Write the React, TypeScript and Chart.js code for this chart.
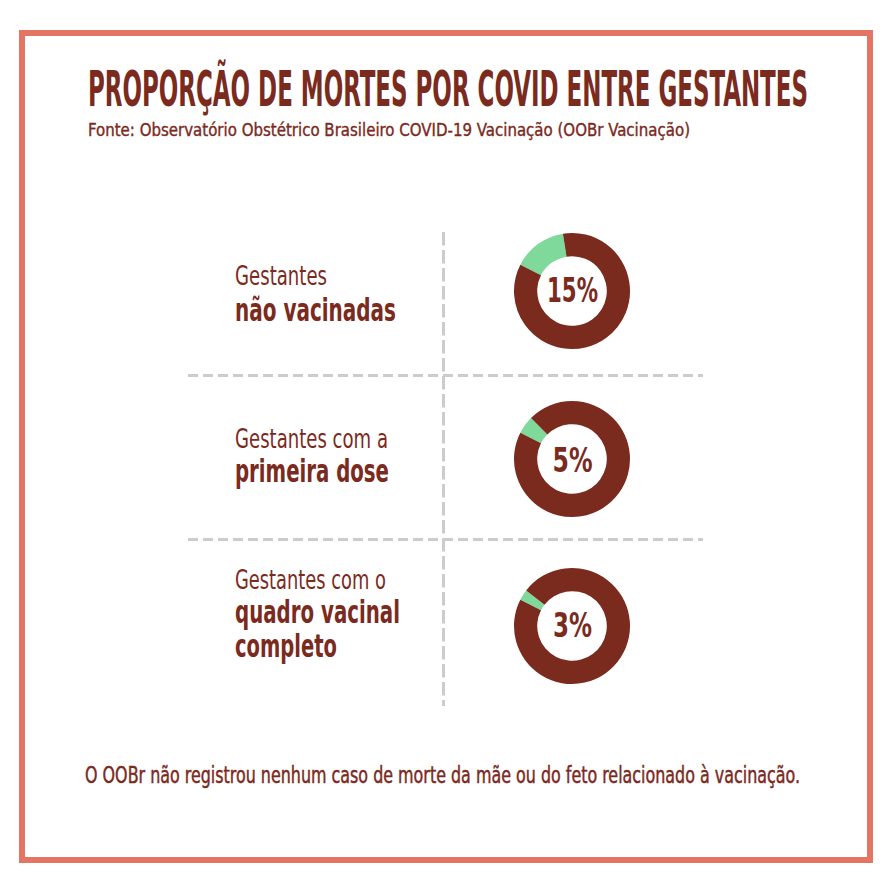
import React, { useEffect, useRef } from "react";
import { Chart, registerables } from "chart.js";

Chart.register(...registerables);

// ---- data ----
const titleText = "PROPORÇÃO DE MORTES POR COVID ENTRE GESTANTES";
const sourceText = "Fonte: Observatório Obstétrico Brasileiro COVID-19 Vacinação (OOBr Vacinação)";
const footnoteText = "O OOBr não registrou nenhum caso de morte da mãe ou do feto relacionado à vacinação.";
const groupLeadLines = ["Gestantes", "Gestantes com a", "Gestantes com o"];
const groupBoldLines = [["não vacinadas"], ["primeira dose"], ["quadro vacinal", "completo"]];
const segmentLabels = ["Mortes por COVID", "Demais"];
const deathPercent = [15, 5, 3];
const otherPercent = [85, 95, 97];
const percentLabels = ["15%", "5%", "3%"];

// ---- style ----
const RED = "#7B2A1E";
const GREEN = "#7FD99A";
const FRAME = "#E57563";
const DASH = "#CCCCCC";
const FONT = "'DejaVu Sans Condensed', 'DejaVu Sans', sans-serif";

// layout (pixels)
const donutCX = 572;
const donutCY = [290.5, 458.5, 626];
const leadBase = [285, 448, 589];
const boldBase = [[321], [482], [623, 657]];
const leadWidth = [92, 153, 151];
const boldWidth = [[161], [154], [165, 102]];
const pctBase = [302, 471.5, 636.5];
const pctWidth = [51, 40, 39];

let measureCtx: CanvasRenderingContext2D | null = null;
function naturalWidth(text: string, size: number, bold: boolean): number {
  if (!measureCtx) measureCtx = document.createElement("canvas").getContext("2d");
  if (!measureCtx) return text.length * size * 0.5;
  measureCtx.font = `${bold ? "bold " : ""}${size}px ${FONT}`;
  return measureCtx.measureText(text).width;
}

function Donut({ idx }: { idx: number }) {
  const ref = useRef<HTMLCanvasElement | null>(null);
  useEffect(() => {
    if (!ref.current) return;
    const chart = new Chart(ref.current, {
      type: "doughnut",
      data: {
        labels: segmentLabels,
        datasets: [
          {
            data: [deathPercent[idx], otherPercent[idx]],
            backgroundColor: [GREEN, RED],
            borderWidth: 0,
          },
        ],
      },
      options: {
        responsive: false,
        animation: false,
        rotation: -63,
        radius: 58,
        cutout: 42,
        events: [],
        layout: { padding: 0 },
        plugins: { legend: { display: false }, tooltip: { enabled: false } },
      },
    });
    return () => chart.destroy();
  }, [idx]);
  return (
    <canvas
      ref={ref}
      width={140}
      height={140}
      style={{ position: "absolute", left: donutCX - 70, top: donutCY[idx] - 70, width: 140, height: 140 }}
    />
  );
}

function T(props: {
  x: number;
  y: number;
  w: number;
  size: number;
  bold?: boolean;
  anchor?: "start" | "middle";
  stroke?: number;
  children: string;
}) {
  const bold = !!props.bold;
  const nat = naturalWidth(props.children, 100, bold);
  const fs = nat > 0 ? (100 * props.w) / nat : props.size;
  const sy = props.size / fs;
  return (
    <text
      transform={`translate(${props.x} ${props.y}) scale(1 ${sy})`}
      x={0}
      y={0}
      fontFamily={FONT}
      fontSize={fs}
      fontWeight={bold ? "bold" : "normal"}
      fill={RED}
      stroke={props.stroke ? RED : undefined}
      strokeWidth={props.stroke || undefined}
      textAnchor={props.anchor || "start"}
      textLength={props.w}
      lengthAdjust="spacingAndGlyphs"
    >
      {props.children}
    </text>
  );
}

export default function App() {
  return (
    <div style={{ position: "absolute", left: 0, top: 0, width: 896, height: 896, background: "#fff" }}>
      <svg width={896} height={896} style={{ position: "absolute", left: 0, top: 0 }}>
        <rect x={22} y={33} width={848} height={827} fill="#fff" stroke={FRAME} strokeWidth={6} />
        <line x1={443.5} y1={232} x2={443.5} y2={706} stroke={DASH} strokeWidth={3} strokeDasharray="13.5 4.5" />
        <line x1={188} y1={375.5} x2={703} y2={375.5} stroke={DASH} strokeWidth={3} strokeDasharray="10 5" />
        <line x1={188} y1={539.5} x2={703} y2={539.5} stroke={DASH} strokeWidth={3} strokeDasharray="10 5" />
        <T x={88} y={106} w={720} size={49} bold>{titleText}</T>
        <T x={88} y={136} w={602} size={18.5} stroke={0.35}>{sourceText}</T>
        {groupLeadLines.map((s, i) => (
          <T key={"l" + i} x={235} y={leadBase[i]} w={leadWidth[i]} size={27}>{s}</T>
        ))}
        {groupBoldLines.map((lines, i) =>
          lines.map((s, j) => (
            <T key={"b" + i + j} x={235} y={boldBase[i][j]} w={boldWidth[i][j]} size={31.5} bold>{s}</T>
          ))
        )}
        {percentLabels.map((s, i) => (
          <T key={"p" + i} x={572.5} y={pctBase[i]} w={pctWidth[i]} size={34} bold anchor="middle">{s}</T>
        ))}
        <T x={85} y={783} w={715} size={23} stroke={0.35}>{footnoteText}</T>
      </svg>
      {deathPercent.map((_, i) => (
        <Donut key={i} idx={i} />
      ))}
    </div>
  );
}
